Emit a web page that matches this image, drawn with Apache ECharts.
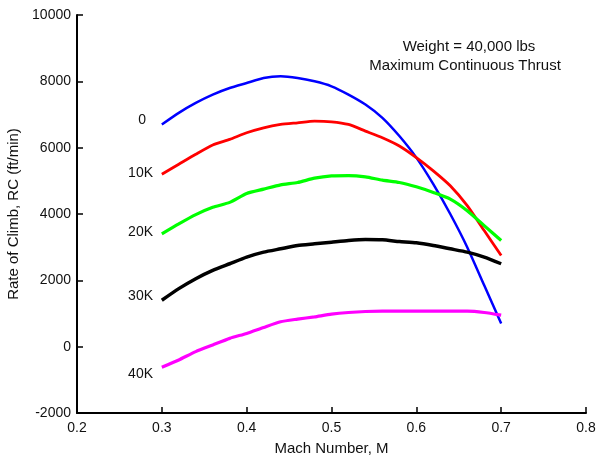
<!DOCTYPE html>
<html>
<head>
<meta charset="utf-8">
<script src="https://cdn.jsdelivr.net/npm/echarts@6/dist/echarts.min.js"></script>
<style>
  html, body { margin: 0; padding: 0; background: #fff; }
  #chart { width: 598px; height: 457px; }
</style>
</head>
<body>
<div id="chart"></div>
<script>
// Mach numbers, shared by every altitude curve
const mach = [0.30, 0.32, 0.34, 0.36, 0.38, 0.40, 0.42, 0.44, 0.46, 0.48, 0.50,
  0.52, 0.54, 0.56, 0.58, 0.60, 0.62, 0.64, 0.66, 0.68, 0.70];

// rate of climb (ft/min) for each altitude
const rc0 = [6700, 7050, 7350, 7600, 7800, 7950, 8100, 8150, 8100, 8000, 7850,
  7600, 7300, 6900, 6350, 5700, 4900, 4000, 3000, 1850, 700];
const rc10k = [5200, 5500, 5800, 6080, 6250, 6450, 6600, 6700, 6750, 6800, 6780,
  6700, 6500, 6300, 6050, 5700, 5300, 4850, 4250, 3500, 2750];
const rc20k = [3400, 3700, 3980, 4200, 4350, 4620, 4750, 4880, 4950, 5080, 5150,
  5160, 5120, 5020, 4950, 4820, 4650, 4450, 4100, 3650, 3200];
const rc30k = [1400, 1750, 2050, 2300, 2500, 2700, 2850, 2950, 3050, 3100, 3150,
  3200, 3230, 3220, 3170, 3130, 3050, 2950, 2850, 2700, 2500];
const rc40k = [-620, -400, -150, 50, 250, 400, 580, 750, 830, 900, 980,
  1030, 1060, 1070, 1070, 1070, 1070, 1070, 1070, 1030, 950];

const altNames = ['0', '10K', '20K', '30K', '40K'];

const font = 'Liberation Sans, Arial, sans-serif';
const txt = '#111';

function pairs(ys) {
  return mach.map((m, i) => [m, ys[i]]);
}

function curve(name, ys, color, width) {
  return {
    name: name,
    type: 'line',
    data: pairs(ys),
    showSymbol: false,
    smooth: 0.2,
    lineStyle: { color: color, width: width },
    itemStyle: { color: color },
    z: 3
  };
}

const labelPos = [
  [146, 120], [153, 173], [153, 232], [153, 296], [153, 374]
];

const chart = echarts.init(document.getElementById('chart'));
chart.setOption({
  animation: false,
  backgroundColor: '#fff',
  grid: { left: 77, right: 12, top: 15, bottom: 44, containLabel: false, outerBoundsMode: 'none' },
  xAxis: {
    type: 'value',
    min: 0.2, max: 0.8, interval: 0.1,
    name: 'Mach Number, M',
    nameLocation: 'middle',
    nameGap: 28,
    nameTextStyle: { fontFamily: font, fontSize: 15, color: txt },
    axisLine: { show: true, onZero: false, lineStyle: { color: '#000', width: 2 } },
    axisTick: { show: true, inside: true, length: 6, lineStyle: { color: '#000', width: 1.5 } },
    axisLabel: {
      fontFamily: font, fontSize: 14, color: txt, margin: 8,
      formatter: v => v.toFixed(1)
    },
    splitLine: { show: false }
  },
  yAxis: {
    type: 'value',
    min: -2000, max: 10000, interval: 2000,
    name: 'Rate of Climb, RC (ft/min)',
    nameLocation: 'middle',
    nameGap: 52,
    nameTextStyle: { fontFamily: font, fontSize: 15, color: txt },
    axisLine: { show: true, onZero: false, lineStyle: { color: '#000', width: 2 } },
    axisTick: { show: true, inside: true, length: 6, lineStyle: { color: '#000', width: 1.5 } },
    axisLabel: { fontFamily: font, fontSize: 14, color: txt, margin: 6, formatter: v => String(v) },
    splitLine: { show: false }
  },
  graphic: [
    {
      type: 'text',
      style: {
        x: 469, y: 47, text: 'Weight = 40,000 lbs',
        textAlign: 'center', textVerticalAlign: 'middle',
        font: '15px ' + font, fill: txt
      }
    },
    {
      type: 'text',
      style: {
        x: 465, y: 66, text: 'Maximum Continuous Thrust',
        textAlign: 'center', textVerticalAlign: 'middle',
        font: '15px ' + font, fill: txt
      }
    }
  ].concat(altNames.map((n, i) => ({
    type: 'text',
    style: {
      x: labelPos[i][0], y: labelPos[i][1], text: n,
      textAlign: 'right', textVerticalAlign: 'middle',
      font: '14px ' + font, fill: txt
    }
  }))),
  series: [
    curve(altNames[0], rc0, '#0000ff', 2.5),
    curve(altNames[1], rc10k, '#ff0000', 2.8),
    curve(altNames[2], rc20k, '#00ff00', 3.2),
    curve(altNames[3], rc30k, '#000000', 3.5),
    curve(altNames[4], rc40k, '#ff00ff', 3.2)
  ]
});
</script>
</body>
</html>
